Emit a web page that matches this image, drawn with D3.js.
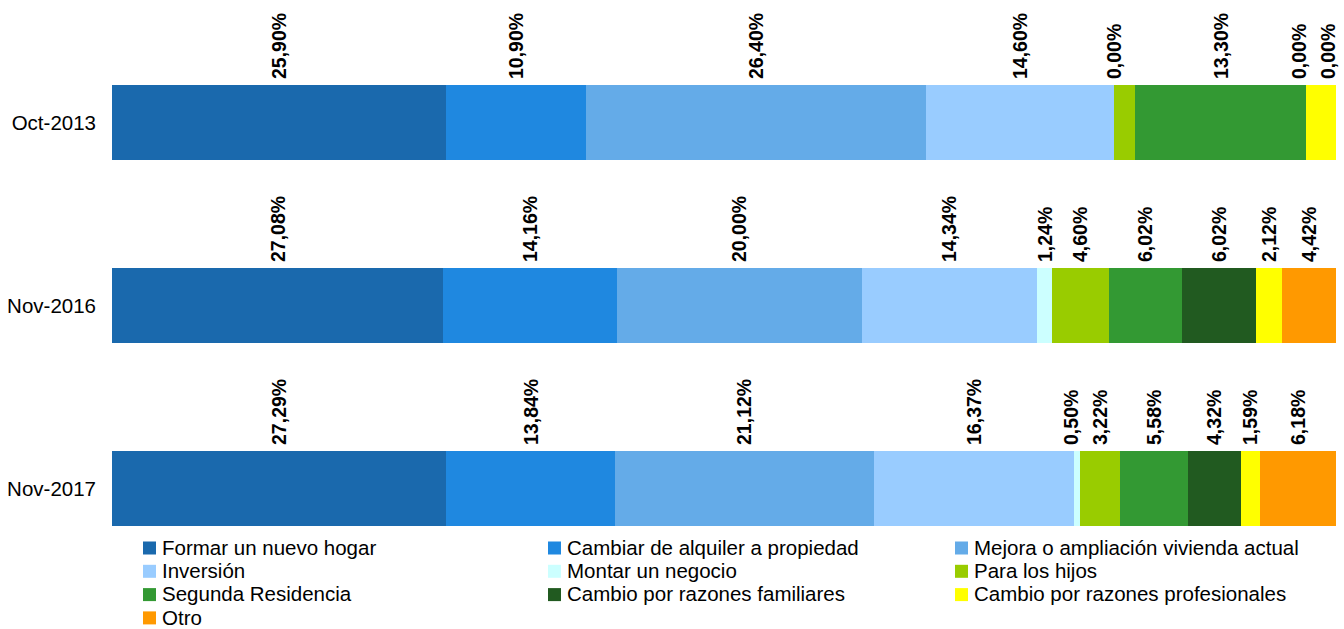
<!DOCTYPE html>
<html>
<head>
<meta charset="utf-8">
<script src="https://cdn.jsdelivr.net/npm/d3@7"></script>
<style>
  html, body { margin: 0; padding: 0; background: #ffffff; }
  svg { display: block; font-family: "Liberation Sans", Arial, sans-serif; }
</style>
</head>
<body>
<svg id="chart" width="1344" height="629"></svg>
<script>
// ---- data ----
const categories = ["Oct-2013", "Nov-2016", "Nov-2017"];
const seriesNames = [
  "Formar un nuevo hogar",
  "Cambiar de alquiler a propiedad",
  "Mejora o ampliación vivienda actual",
  "Inversión",
  "Montar un negocio",
  "Para los hijos",
  "Segunda Residencia",
  "Cambio por razones familiares",
  "Cambio por razones profesionales",
  "Otro"
];
const seriesColors = ["#1a69ad", "#1f88e0", "#64abe8", "#99ccff", "#ccffff",
                      "#99cc00", "#339933", "#215a20", "#ffff00", "#ff9900"];
const values2013 = [25.90, 10.90, 26.40, 14.60, 0.00, 1.60, 13.30, 0.00, 2.30, 0.00];
const values2016 = [27.08, 14.16, 20.00, 14.34, 1.24, 4.60, 6.02, 6.02, 2.12, 4.42];
const values2017 = [27.29, 13.84, 21.12, 16.37, 0.50, 3.22, 5.58, 4.32, 1.59, 6.18];
// data labels as printed on the chart (null = no label shown)
const labels2013 = ["25,90%", "10,90%", "26,40%", "14,60%", "0,00%", null, "13,30%", "0,00%", null, "0,00%"];
const labels2016 = ["27,08%", "14,16%", "20,00%", "14,34%", "1,24%", "4,60%", "6,02%", "6,02%", "2,12%", "4,42%"];
const labels2017 = ["27,29%", "13,84%", "21,12%", "16,37%", "0,50%", "3,22%", "5,58%", "4,32%", "1,59%", "6,18%"];

const rows = [
  { cat: categories[0], values: values2013, labels: labels2013 },
  { cat: categories[1], values: values2016, labels: labels2016 },
  { cat: categories[2], values: values2017, labels: labels2017 }
];

// ---- layout ----
const svg = d3.select("#chart");
const xLeft = 112, xRight = 1336;

const y = d3.scaleBand()
  .domain(categories)
  .range([85, 526])
  .paddingInner(0.59)
  .paddingOuter(0);

rows.forEach(row => {
  const total = d3.sum(row.values);
  const x = d3.scaleLinear().domain([0, total]).range([xLeft, xRight]);
  const cum = d3.cumsum(row.values);
  const segs = row.values.map((v, i) => ({
    i, v, x0: cum[i] - v, x1: cum[i], label: row.labels[i]
  }));
  const g = svg.append("g");
  const barTop = y(row.cat);
  const bw = y.bandwidth();

  g.selectAll("rect")
    .data(segs.filter(s => s.v > 0))
    .enter().append("rect")
    .attr("x", d => x(d.x0))
    .attr("y", barTop)
    .attr("width", d => x(d.x1) - x(d.x0))
    .attr("height", bw)
    .attr("shape-rendering", "crispEdges")
    .attr("fill", d => seriesColors[d.i]);

  // label positions with simple overlap avoidance (right to left)
  const labeled = segs.filter(s => s.label !== null);
  let prev = Infinity;
  for (let k = labeled.length - 1; k >= 0; k--) {
    const s = labeled[k];
    let cx = x((s.x0 + s.x1) / 2);
    cx = Math.min(cx, xRight - 8, prev - 29);
    s.lx = cx;
    prev = cx;
  }

  g.selectAll("text.val")
    .data(labeled)
    .enter().append("text")
    .attr("class", "val")
    .attr("transform", d => `translate(${d.lx},${barTop - 6}) rotate(-90)`)
    .attr("dy", "0.35em")
    .attr("text-anchor", "start")
    .attr("font-size", "19.5px")
    .attr("font-weight", "bold")
    .attr("fill", "#000")
    .text(d => d.label);

  g.append("text")
    .attr("x", 96)
    .attr("y", barTop + bw / 2)
    .attr("dy", "0.35em")
    .attr("text-anchor", "end")
    .attr("font-size", "20.5px")
    .attr("fill", "#000")
    .text(row.cat);
});

// ---- legend ----
const legCols = [143, 548, 955];
const legRowY = 547.5, legRowStep = 23.3;
const leg = svg.append("g");
seriesNames.forEach((name, i) => {
  const col = i % 3, r = Math.floor(i / 3);
  const lx = legCols[col], ly = legRowY + r * legRowStep;
  leg.append("rect")
    .attr("x", lx).attr("y", ly - 6)
    .attr("width", 13).attr("height", 13)
    .attr("fill", seriesColors[i]);
  leg.append("text")
    .attr("x", lx + 19).attr("y", ly)
    .attr("dy", "0.35em")
    .attr("font-size", "20.5px")
    .attr("fill", "#000")
    .text(name);
});
</script>
</body>
</html>
